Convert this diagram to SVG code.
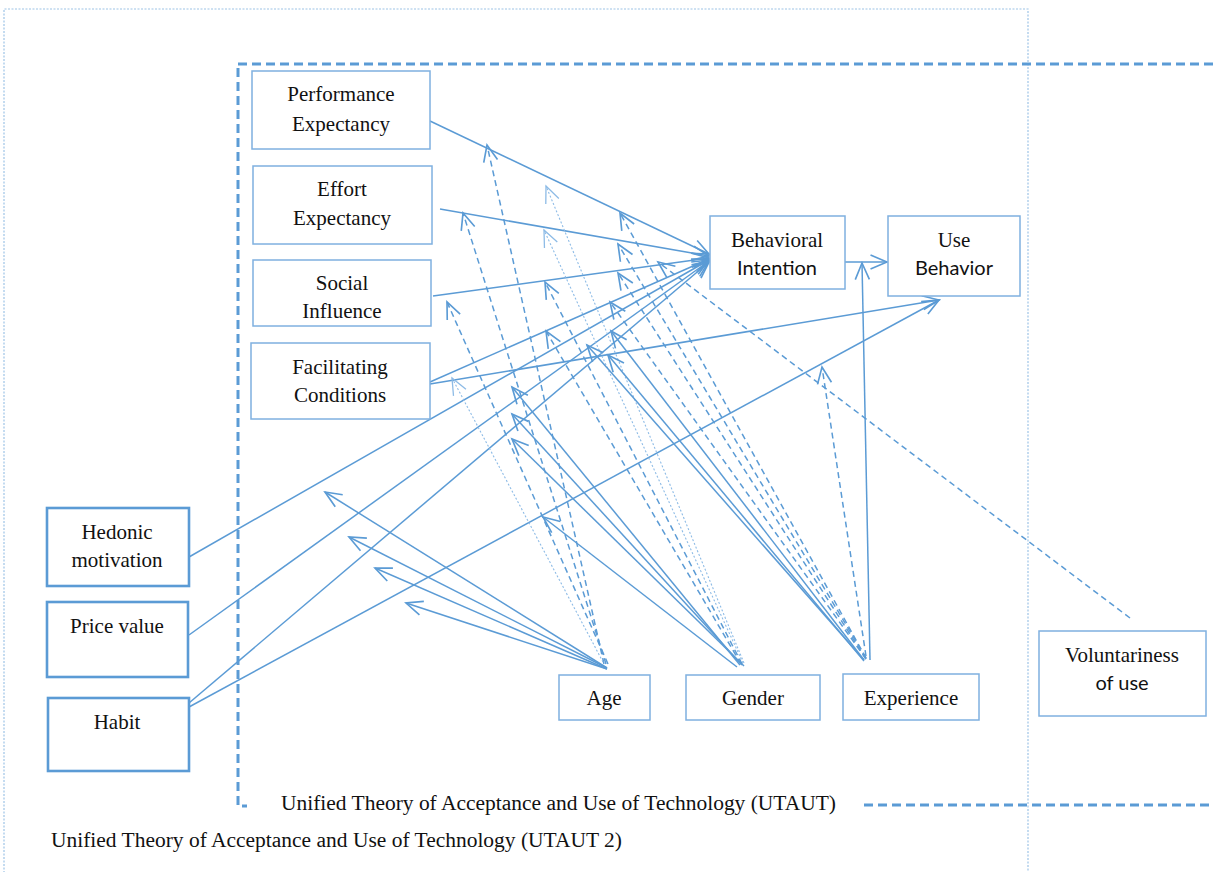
<svg xmlns="http://www.w3.org/2000/svg" width="1214" height="872" viewBox="0 0 1214 872">
  <defs>
    <marker id="arrow" markerUnits="userSpaceOnUse" markerWidth="20" markerHeight="20" viewBox="-15 -8 17 16" refX="0" refY="0" orient="auto">
      <path d="M-14,-6 L0,0 L-14,6" fill="none" stroke="#5b9bd5" stroke-width="1.4" stroke-dasharray="none"/>
    </marker>
    <marker id="arrow-thin" markerUnits="userSpaceOnUse" markerWidth="20" markerHeight="20" viewBox="-15 -8 17 16" refX="0" refY="0" orient="auto">
      <path d="M-14,-6 L0,0 L-14,6" fill="none" stroke="#8dbbe6" stroke-width="1.1" stroke-dasharray="none"/>
    </marker>
    <style>
      .box { fill: #ffffff; stroke: #7fb0e0; stroke-width: 1.5; }
      .box-strong { fill: #ffffff; stroke: #5b9bd5; stroke-width: 2.6; }
      .serif { font-family: "Liberation Serif", "Times New Roman", serif; font-size: 21px; fill: #111; text-anchor: middle; }
      .sans { font-family: Lato, "Liberation Sans", Arial, sans-serif; font-size: 20px; fill: #111; text-anchor: middle; }
      .caption { font-family: "Liberation Serif", "Times New Roman", serif; font-size: 20px; fill: #111; }
      .link { fill: none; stroke: #5b9bd5; stroke-width: 1.5; marker-end: url(#arrow); }
      .dash { fill: none; stroke: #5b9bd5; stroke-width: 1.5; stroke-dasharray: 6 4; marker-end: url(#arrow); }
      .dot { fill: none; stroke: #8dbbe6; stroke-width: 1.1; stroke-dasharray: 2 2; marker-end: url(#arrow-thin); }
      .frame-outer { fill: none; stroke: #9dc3e6; stroke-width: 1.2; stroke-dasharray: 2 1.5; }
      .frame-inner { fill: none; stroke: #5b9bd5; stroke-width: 3; stroke-dasharray: 9 5; }
    </style>
  </defs>

  <rect width="1214" height="872" fill="#ffffff"/>

  <!-- UTAUT 2 frame (dotted) -->
  <g id="frame-utaut2">
    <path class="frame-outer" d="M4,880 L4,9 L1028,9 L1028,880"/>
    <text class="caption" x="51" y="847" textLength="571" lengthAdjust="spacingAndGlyphs">Unified Theory of Acceptance and Use of Technology (UTAUT 2)</text>
  </g>

  <!-- UTAUT frame (dashed) -->
  <g id="frame-utaut">
    <path class="frame-inner" d="M238,64 L1214,64"/>
    <path class="frame-inner" d="M238,68 L238,806 L247,806"/>
    <path class="frame-inner" d="M864,805 L1214,805"/>
    <text class="caption" x="281" y="810" textLength="555" lengthAdjust="spacingAndGlyphs">Unified Theory of Acceptance and Use of Technology (UTAUT)</text>
  </g>

  <g id="connectors">
    <!-- constructs to Behavioral Intention -->
    <path class="link" d="M430,121 L709,254"/>
    <path class="link" d="M440,209 L709,256"/>
    <path class="link" d="M433,296 L709,258"/>
    <path class="link" d="M430,382 L709,259"/>
    <path class="link" d="M189,557 L709,260"/>
    <path class="link" d="M189,635 L709,261"/>
    <path class="link" d="M189,703 L709,262"/>
    <!-- constructs to Use Behavior -->
    <path class="link" d="M430,384 L939,300"/>
    <path class="link" d="M189,707 L939,300"/>
    <path class="link" d="M845,262 L887,262"/>

    <!-- Age moderation -->
    <path class="dash" d="M604,664 L487,145"/>
    <path class="dash" d="M606,664 L463,213"/>
    <path class="dash" d="M608,664 L447,302"/>
    <path class="dot" d="M603,662 L452,378"/>
    <path class="link" d="M607,668 L325,492"/>
    <path class="link" d="M607,668 L349,537"/>
    <path class="link" d="M607,669 L375,568"/>
    <path class="link" d="M607,669 L406,603"/>

    <!-- Gender moderation -->
    <path class="dot" d="M744,663 L546,186"/>
    <path class="dot" d="M743,663 L544,230"/>
    <path class="dash" d="M742,664 L545,282"/>
    <path class="dash" d="M741,664 L546,331"/>
    <path class="link" d="M740,665 L512,387"/>
    <path class="link" d="M742,665 L512,414"/>
    <path class="link" d="M744,666 L512,439"/>
    <path class="link" d="M737,667 L543,517"/>

    <!-- Experience moderation -->
    <path class="dash" d="M866,658 L620,213"/>
    <path class="dash" d="M866,658 L618,244"/>
    <path class="dash" d="M866,659 L618,273"/>
    <path class="dash" d="M866,659 L610,302"/>
    <path class="dash" d="M866,656 L822,367"/>
    <path class="link" d="M864,660 L587,345"/>
    <path class="link" d="M864,660 L611,331"/>
    <path class="link" d="M864,661 L608,355"/>
    <path class="link" d="M870,660 L862,263"/>

    <!-- Voluntariness of use moderation -->
    <path class="dash" d="M1130,618 L658,262"/>
  </g>

  <g id="performance-expectancy">
    <rect class="box" x="252" y="71" width="178" height="78"/>
    <text class="serif" x="341" y="101">Performance</text>
    <text class="serif" x="341" y="131">Expectancy</text>
  </g>
  <g id="effort-expectancy">
    <rect class="box" x="253" y="166" width="179" height="78"/>
    <text class="serif" x="342" y="196">Effort</text>
    <text class="serif" x="342" y="225">Expectancy</text>
  </g>
  <g id="social-influence">
    <rect class="box" x="253" y="260" width="178" height="66"/>
    <text class="serif" x="342" y="290">Social</text>
    <text class="serif" x="342" y="318">Influence</text>
  </g>
  <g id="facilitating-conditions">
    <rect class="box" x="251" y="343" width="179" height="76"/>
    <text class="serif" x="340" y="374">Facilitating</text>
    <text class="serif" x="340" y="402">Conditions</text>
  </g>
  <g id="behavioral-intention">
    <rect class="box" x="710" y="216" width="135" height="73"/>
    <text class="serif" x="777" y="247">Behavioral</text>
    <text class="sans" x="777" y="275">Intention</text>
  </g>
  <g id="use-behavior">
    <rect class="box" x="888" y="216" width="132" height="80"/>
    <text class="serif" x="954" y="247">Use</text>
    <text class="sans" x="954" y="275">Behavior</text>
  </g>
  <g id="hedonic-motivation">
    <rect class="box-strong" x="47" y="508" width="142" height="78"/>
    <text class="serif" x="117" y="539">Hedonic</text>
    <text class="serif" x="117" y="567">motivation</text>
  </g>
  <g id="price-value">
    <rect class="box-strong" x="47" y="602" width="141" height="75"/>
    <text class="serif" x="117" y="633">Price value</text>
  </g>
  <g id="habit">
    <rect class="box-strong" x="48" y="698" width="141" height="73"/>
    <text class="serif" x="117" y="729">Habit</text>
  </g>
  <g id="age">
    <rect class="box" x="559" y="675" width="91" height="45"/>
    <text class="serif" x="604" y="705">Age</text>
  </g>
  <g id="gender">
    <rect class="box" x="686" y="675" width="134" height="45"/>
    <text class="serif" x="753" y="705">Gender</text>
  </g>
  <g id="experience">
    <rect class="box" x="843" y="674" width="136" height="46"/>
    <text class="serif" x="911" y="705">Experience</text>
  </g>
  <g id="voluntariness-of-use">
    <rect class="box" x="1039" y="631" width="167" height="85"/>
    <text class="serif" x="1122" y="662">Voluntariness</text>
    <text class="sans" x="1122" y="690">of use</text>
  </g>
</svg>
